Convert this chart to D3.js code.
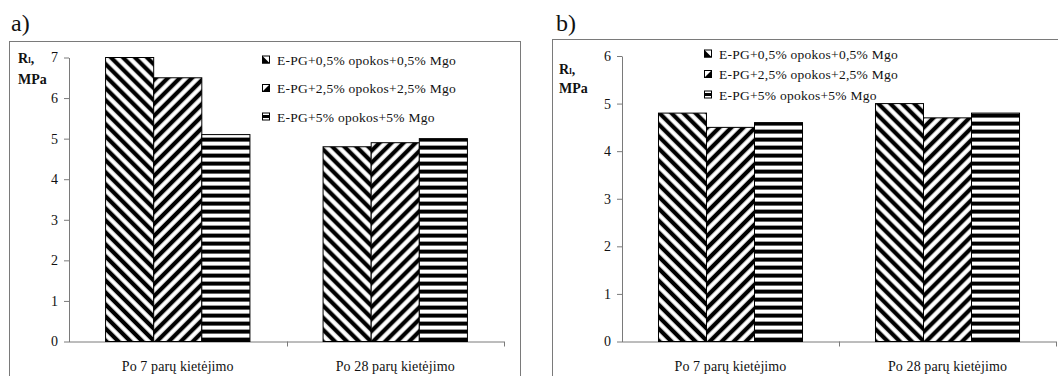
<!DOCTYPE html>
<html>
<head>
<meta charset="utf-8">
<script src="https://cdn.jsdelivr.net/npm/d3@7"></script>
<style>
  body { margin: 0; background: #fff; }
</style>
</head>
<body>
<svg class="chartSVG" width="1058" height="376"></svg>
<script>
const categories = ['Po 7 parų kietėjimo', 'Po 28 parų kietėjimo'];
const seriesNames = [
  'E-PG+0,5% opokos+0,5% Mgo',
  'E-PG+2,5% opokos+2,5% Mgo',
  'E-PG+5% opokos+5% Mgo'
];
// values per series, [7 days, 28 days]
const valuesA = [
  [7.0, 4.8],
  [6.5, 4.9],
  [5.1, 5.0]
];
const valuesB = [
  [4.8, 5.0],
  [4.5, 4.7],
  [4.6, 4.8]
];
const ticksA = [0, 1, 2, 3, 4, 5, 6, 7];
const ticksB = [0, 1, 2, 3, 4, 5, 6];

const FONT = "'Liberation Serif', 'Times New Roman', Times, 'DejaVu Serif', serif";

const svg = d3.select('svg.chartSVG')
  .attr('font-family', FONT);
const patIds = ['patBack', 'patFwd', 'patHoriz'];

// hatch patterns, shared origin so neighbouring bars form chevrons
const defs = svg.append('defs');
function stripePattern(id, angle, period){
  const p = defs.append('pattern')
    .attr('id', id)
    .attr('patternUnits', 'userSpaceOnUse')
    .attr('width', period)
    .attr('height', period);
  if (angle !== null) p.attr('patternTransform', `rotate(${angle})`);
  p.append('rect').attr('width', period).attr('height', period).style('fill', '#fff');
  if (angle === null) {
    p.append('rect').attr('y', period * 0.2).attr('width', period).attr('height', period * 0.5).style('fill', '#000');
  } else {
    p.append('rect').attr('x', period * 0.2).attr('width', period * 0.5).attr('height', period).style('fill', '#000');
  }
}
stripePattern('patBack', -45, 8.5);
stripePattern('patFwd', 45, 8.5);
stripePattern('patHoriz', null, 8);

function txt(sel, size, spacing){
  return sel.style('font-family', FONT)
    .style('font-size', size + 'px')
    .style('letter-spacing', (spacing || 0) + 'px')
    .style('fill', '#111');
}

function drawChart(cfg){
  const g = svg.append('g').attr('class', 'panel');

  txt(g.append('text'), 24)
    .text(cfg.letter)
    .attr('x', cfg.letterPos[0])
    .attr('y', cfg.letterPos[1]);

  g.append('rect')
    .attr('x', cfg.frame[0] + 0.5)
    .attr('y', cfg.frame[1] + 0.5)
    .attr('width', cfg.frame[2])
    .attr('height', cfg.frame[3])
    .style('fill', 'none')
    .style('stroke', '#7a7a7a');

  const y = d3.scaleLinear()
    .domain([0, d3.max(cfg.ticks)])
    .range([cfg.yRange[0], cfg.yRange[1]]);

  const x0 = d3.scaleBand()
    .domain(categories)
    .range(cfg.xRange)
    .padding(0);

  const x1 = d3.scaleBand()
    .domain(d3.range(seriesNames.length))
    .range([0, x0.bandwidth()])
    .paddingInner(0)
    .paddingOuter(0.76);

  // y axis
  const yAx = g.append('g')
    .attr('transform', `translate(${cfg.xRange[0]},0)`)
    .call(d3.axisLeft(y).tickValues(cfg.ticks).tickFormat(d3.format('d')).tickSize(5).tickSizeOuter(0).tickPadding(6));
  yAx.attr('font-family', FONT);
  yAx.select('.domain').style('stroke', '#7a7a7a');
  yAx.selectAll('line').style('stroke', '#7a7a7a');
  txt(yAx.selectAll('text'), 14);

  // x axis line with ticks at band edges
  const xAx = g.append('g').attr('class', 'xAxis');
  xAx.append('line')
    .attr('x1', cfg.xRange[0]).attr('x2', cfg.xRange[1])
    .attr('y1', y(0) + 0.5).attr('y2', y(0) + 0.5)
    .style('stroke', '#7a7a7a');
  const edges = categories.map(c => x0(c)).slice(1).concat([cfg.xRange[1]]);
  xAx.selectAll('line.tk')
    .data(edges)
    .enter()
    .append('line')
    .attr('class', 'tk')
    .attr('x1', d => Math.round(d) + 0.5).attr('x2', d => Math.round(d) + 0.5)
    .attr('y1', y(0)).attr('y2', y(0) + 5)
    .style('stroke', '#7a7a7a');
  txt(xAx.selectAll('text')
    .data(categories)
    .enter()
    .append('text'), 14, 0.1)
    .attr('x', d => x0(d) + x0.bandwidth() / 2)
    .attr('y', cfg.catY)
    .style('text-anchor', 'middle')
    .text(d => d);

  // bars
  const barData = [];
  cfg.values.forEach((vals, s) => {
    vals.forEach((v, c) => barData.push({s: s, cat: categories[c], v: v}));
  });
  g.append('g')
    .attr('class', 'bars')
    .selectAll('rect')
    .data(barData)
    .enter()
    .append('rect')
    .attr('x', d => x0(d.cat) + x1(d.s))
    .attr('y', d => y(d.v))
    .attr('width', x1.bandwidth())
    .attr('height', d => y(0) - y(d.v))
    .style('fill', d => `url(#${patIds[d.s]})`)
    .style('stroke', '#000')
    .style('stroke-width', 1);

  // y label
  const lab = txt(g.append('text'), 14)
    .attr('x', cfg.labelPos[0])
    .attr('y', cfg.labelPos[1])
    .style('font-weight', 'bold');
  lab.append('tspan').text('R');
  lab.append('tspan').text('l').style('font-size', '9px');
  lab.append('tspan').text(',');
  txt(g.append('text'), 14)
    .attr('x', cfg.labelPos[0])
    .attr('y', cfg.labelPos[1] + cfg.labelGap)
    .style('font-weight', 'bold')
    .text('MPa');

  // legend
  const leg = g.append('g')
    .attr('class', 'legend')
    .selectAll('g')
    .data(seriesNames)
    .enter()
    .append('g')
    .attr('transform', (d, i) => `translate(${cfg.legendPos[0]},${cfg.legendPos[1] + i * cfg.legendGap})`);
  leg.append('rect')
    .attr('x', 0.5).attr('y', -8.5)
    .attr('width', 7).attr('height', 7)
    .style('fill', '#fff')
    .style('stroke', '#000');
  leg.append('path')
    .attr('d', (d, i) => i === 0 ? 'M0,-9 L0,-1 L8,-1 Z'
      : i === 1 ? 'M0,-1 L8,-1 L8,-9 Z'
      : 'M0,-6.5 L8,-6.5 L8,-3.5 L0,-3.5 Z')
    .style('fill', '#000');
  txt(leg.append('text'), 13.5, 0.25)
    .attr('x', 15)
    .attr('y', 0)
    .text(d => d);
}

drawChart({
  letter: 'a)', letterPos: [11, 31],
  frame: [9, 41, 511, 345],
  ticks: ticksA, values: valuesA,
  yRange: [341.5, 57.5],
  xRange: [69, 504],
  catY: 371,
  labelPos: [18, 63], labelGap: 21,
  legendPos: [262, 64.5], legendGap: 28.5
});

drawChart({
  letter: 'b)', letterPos: [556, 31],
  frame: [552, 39, 520, 345],
  ticks: ticksB, values: valuesB,
  yRange: [341.5, 56],
  xRange: [622, 1056],
  catY: 371,
  labelPos: [559, 74], labelGap: 19,
  legendPos: [704, 58.5], legendGap: 20.5
});
</script>
</body>
</html>
